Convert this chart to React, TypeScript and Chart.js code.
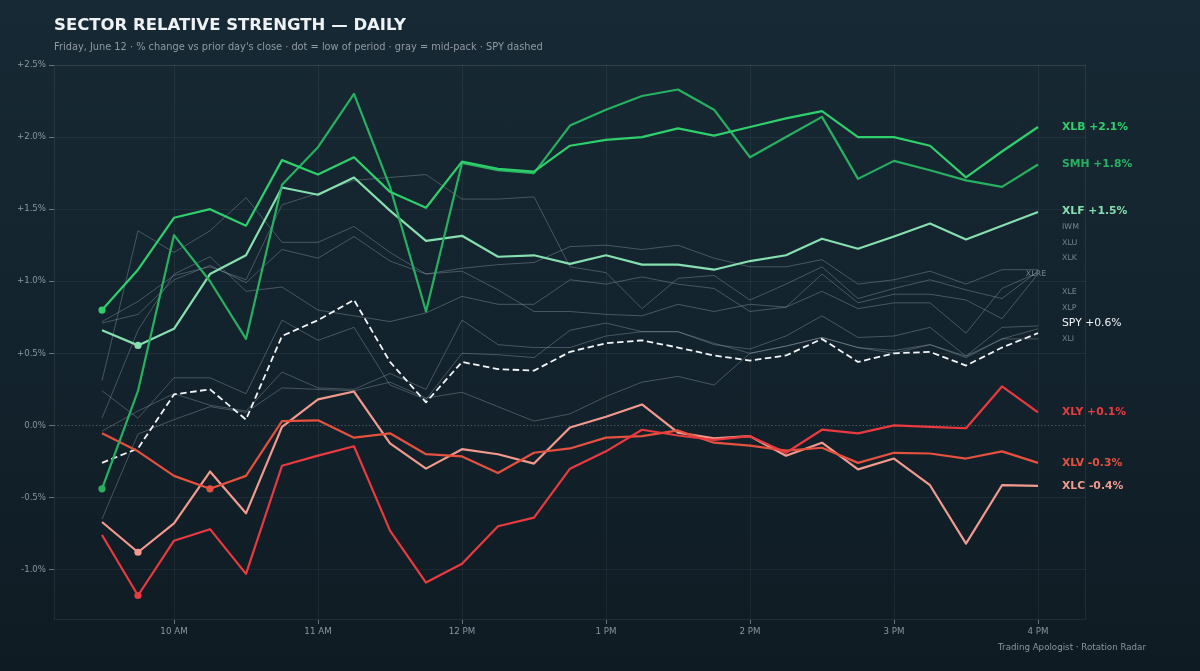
import React, { useEffect, useRef } from "react";
import { Chart, registerables } from "chart.js";

Chart.register(...registerables);

// ---------- data ----------
const TIMES = [
  "9:30", "9:45", "10:00", "10:15", "10:30", "10:45", "11:00", "11:15", "11:30",
  "11:45", "12:00", "12:15", "12:30", "12:45", "13:00", "13:15", "13:30", "13:45",
  "14:00", "14:15", "14:30", "14:45", "15:00", "15:15", "15:30", "15:45", "16:00",
];
const X_RANGE = ["9:10", "16:20"];
const X_TICK_TIMES = ["10:00", "11:00", "12:00", "13:00", "14:00", "15:00", "16:00"];
const X_TICK_LABELS = ["10 AM", "11 AM", "12 PM", "1 PM", "2 PM", "3 PM", "4 PM"];
const Y_TICKS = [-1.0, -0.5, 0.0, 0.5, 1.0, 1.5, 2.0, 2.5];
const Y_RANGE = [-1.35, 2.5];

const XLB = [0.80, 1.08, 1.44, 1.50, 1.385, 1.84, 1.74, 1.86, 1.62, 1.51, 1.83, 1.78, 1.76, 1.94, 1.98, 2.00, 2.06, 2.01, 2.07, 2.13, 2.18, 2.00, 2.00, 1.94, 1.72, 1.90, 2.07];
const SMH = [-0.44, 0.24, 1.32, 1.0, 0.60, 1.67, 1.93, 2.30, 1.655, 0.79, 1.82, 1.77, 1.75, 2.08, 2.19, 2.285, 2.33, 2.19, 1.86, 2.00, 2.14, 1.71, 1.835, 1.77, 1.70, 1.655, 1.81];
const XLF = [0.66, 0.555, 0.67, 1.05, 1.18, 1.65, 1.60, 1.72, 1.49, 1.28, 1.315, 1.17, 1.18, 1.12, 1.18, 1.115, 1.115, 1.08, 1.14, 1.18, 1.295, 1.225, 1.31, 1.40, 1.29, 1.385, 1.48];
const SPY = [-0.26, -0.16, 0.215, 0.25, 0.04, 0.62, 0.73, 0.87, 0.44, 0.16, 0.44, 0.39, 0.38, 0.51, 0.57, 0.59, 0.54, 0.485, 0.45, 0.485, 0.60, 0.44, 0.50, 0.51, 0.415, 0.54, 0.64];
const XLY = [-0.76, -1.18, -0.80, -0.72, -1.03, -0.28, -0.21, -0.145, -0.73, -1.09, -0.96, -0.70, -0.64, -0.30, -0.18, -0.03, -0.07, -0.10, -0.075, -0.19, -0.03, -0.055, 0.0, -0.01, -0.02, 0.27, 0.09];
const XLV = [-0.055, -0.18, -0.35, -0.44, -0.35, 0.03, 0.035, -0.085, -0.055, -0.20, -0.215, -0.33, -0.19, -0.16, -0.085, -0.075, -0.035, -0.12, -0.14, -0.175, -0.155, -0.26, -0.19, -0.195, -0.23, -0.18, -0.26];
const XLC = [-0.67, -0.88, -0.68, -0.32, -0.61, -0.01, 0.18, 0.235, -0.125, -0.30, -0.165, -0.20, -0.265, -0.015, 0.06, 0.145, -0.05, -0.09, -0.075, -0.21, -0.12, -0.305, -0.23, -0.415, -0.82, -0.415, -0.42];

const IWM = [0.31, 1.35, 1.20, 1.35, 1.58, 1.27, 1.27, 1.38, 1.20, 1.05, 1.09, 1.115, 1.13, 1.24, 1.25, 1.22, 1.25, 1.16, 1.10, 1.10, 1.15, 0.98, 1.01, 1.07, 0.98, 1.08, 1.08];
const XLU = [0.72, 0.86, 1.04, 1.10, 1.01, 1.53, 1.61, 1.70, 1.72, 1.74, 1.57, 1.57, 1.585, 1.10, 1.06, 0.81, 1.02, 1.04, 0.87, 0.98, 1.10, 0.88, 0.95, 1.01, 0.94, 0.88, 1.07];
const XLK = [0.71, 0.77, 1.01, 1.11, 0.99, 1.22, 1.16, 1.31, 1.14, 1.05, 1.07, 0.94, 0.79, 0.79, 0.77, 0.76, 0.84, 0.79, 0.84, 0.82, 0.93, 0.81, 0.85, 0.85, 0.64, 0.95, 1.06];
const XLRE = [0.05, 0.66, 1.05, 1.17, 0.93, 0.96, 0.80, 0.76, 0.72, 0.78, 0.895, 0.84, 0.84, 1.01, 0.98, 1.03, 0.98, 0.95, 0.79, 0.82, 1.05, 0.85, 0.91, 0.91, 0.87, 0.74, 1.05];
const XLE = [0.24, 0.05, 0.33, 0.33, 0.22, 0.73, 0.59, 0.68, 0.28, 0.18, 0.50, 0.49, 0.47, 0.66, 0.71, 0.65, 0.65, 0.56, 0.53, 0.62, 0.76, 0.61, 0.62, 0.68, 0.48, 0.68, 0.69];
const XLP = [-0.04, 0.10, 0.22, 0.14, 0.10, 0.37, 0.26, 0.25, 0.36, 0.25, 0.73, 0.56, 0.54, 0.54, 0.62, 0.65, 0.65, 0.57, 0.50, 0.55, 0.61, 0.54, 0.50, 0.56, 0.48, 0.60, 0.67];
const XLI = [-0.65, -0.06, 0.04, 0.13, 0.09, 0.26, 0.25, 0.24, 0.30, 0.19, 0.23, 0.13, 0.03, 0.08, 0.20, 0.30, 0.34, 0.28, 0.50, 0.55, 0.61, 0.54, 0.52, 0.56, 0.47, 0.60, 0.60];

const INLINE_LABEL = "XLRE";

// ---------- styles ----------
type Kind = "hi" | "spy" | "gray";
interface Series { name: string; values: number[]; kind: Kind; color: string }

const SERIES: Series[] = [
  { name: "XLB", values: XLB, kind: "hi", color: "#2fcf6c" },
  { name: "SMH", values: SMH, kind: "hi", color: "#27b060" },
  { name: "XLF", values: XLF, kind: "hi", color: "#86dfae" },
  { name: "XLY", values: XLY, kind: "hi", color: "#ea3a40" },
  { name: "XLV", values: XLV, kind: "hi", color: "#e5513f" },
  { name: "XLC", values: XLC, kind: "hi", color: "#f29a8e" },
  { name: "SPY", values: SPY, kind: "spy", color: "#f2f5f7" },
  { name: "IWM", values: IWM, kind: "gray", color: "rgba(150,164,175,0.40)" },
  { name: "XLU", values: XLU, kind: "gray", color: "rgba(150,164,175,0.40)" },
  { name: "XLK", values: XLK, kind: "gray", color: "rgba(150,164,175,0.40)" },
  { name: "XLRE", values: XLRE, kind: "gray", color: "rgba(150,164,175,0.40)" },
  { name: "XLE", values: XLE, kind: "gray", color: "rgba(150,164,175,0.40)" },
  { name: "XLP", values: XLP, kind: "gray", color: "rgba(150,164,175,0.40)" },
  { name: "XLI", values: XLI, kind: "gray", color: "rgba(150,164,175,0.40)" },
];

const FONT = "'DejaVu Sans', 'Noto Sans', sans-serif";
const TICK_COLOR = "#8a96a0";

const toMin = (t: string) => {
  const [h, m] = t.split(":").map(Number);
  return h * 60 + m;
};

const fmt = (v: number) => (v >= 0 ? "+" : "") + v.toFixed(1) + "%";

const framePlugin = {
  id: "frame",
  beforeDatasetsDraw(chart: any) {
    const { ctx, chartArea: a, scales } = chart;
    ctx.save();
    ctx.strokeStyle = "rgba(255,255,255,0.075)";
    ctx.lineWidth = 1;
    ctx.strokeRect(a.left + 0.5, a.top + 0.5, a.right - a.left - 1, a.bottom - a.top - 1);
    const y0 = Math.round(scales.y.getPixelForValue(0)) + 0.5;
    ctx.strokeStyle = "rgba(190,205,215,0.38)";
    ctx.lineWidth = 0.8;
    ctx.setLineDash([1.5, 2]);
    ctx.beginPath();
    ctx.moveTo(a.left, y0);
    ctx.lineTo(a.right, y0);
    ctx.stroke();
    ctx.restore();
  },
};

const labelPlugin = {
  id: "endLabels",
  afterDatasetsDraw(chart: any) {
    const { ctx, scales } = chart;
    const ys = scales.y;
    const xs = scales.x;
    const lastX = xs.getPixelForValue(toMin(TIMES[TIMES.length - 1]));
    const items = SERIES.map((s) => ({ s, end: s.values[s.values.length - 1] }));
    items.sort((a, b) => a.end - b.end);
    const GAP = 15.7;
    let prev = Infinity;
    ctx.save();
    ctx.textBaseline = "middle";
    for (const it of items) {
      const py = ys.getPixelForValue(it.end);
      const y = Math.min(py, prev - GAP);
      prev = y;
      const s = it.s;
      if (s.kind === "hi") {
        ctx.font = `bold 10.8px ${FONT}`;
        ctx.fillStyle = s.color;
        ctx.textAlign = "left";
        ctx.fillText(`${s.name} ${fmt(it.end)}`, lastX + 24, y);
      } else if (s.kind === "spy") {
        ctx.font = `10.8px ${FONT}`;
        ctx.fillStyle = "#eef2f5";
        ctx.textAlign = "left";
        ctx.fillText(`${s.name} ${fmt(it.end)}`, lastX + 24, y);
      } else {
        ctx.font = `7.9px ${FONT}`;
        ctx.fillStyle = "#76838d";
        if (s.name === INLINE_LABEL) {
          ctx.textAlign = "center";
          ctx.fillText(s.name, lastX - 2, y);
        } else {
          ctx.textAlign = "left";
          ctx.fillText(s.name, lastX + 24, y);
        }
      }
    }
    ctx.restore();
  },
};

function lowIndex(v: number[]) {
  let k = 0;
  for (let i = 1; i < v.length; i++) if (v[i] < v[k]) k = i;
  return k;
}

export default function App() {
  const ref = useRef<HTMLCanvasElement | null>(null);

  useEffect(() => {
    document.body.style.margin = "0";
    const xs = TIMES.map(toMin);
    const datasets = SERIES.map((s) => {
      const low = s.kind === "hi" ? lowIndex(s.values) : -1;
      return {
        label: s.name,
        data: s.values.map((v, i) => ({ x: xs[i], y: v })),
        borderColor: s.color,
        backgroundColor: s.color,
        borderWidth: s.kind === "gray" ? 1 : s.kind === "spy" ? 1.8 : 2.2,
        borderDash: s.kind === "spy" ? [6.5, 3.5] : [],
        borderJoinStyle: "round" as const,
        pointRadius: (c: any) => (c.dataIndex === low ? 3.6 : 0),
        pointHoverRadius: 0,
        pointBorderWidth: 0,
        pointBackgroundColor: s.color,
        tension: 0,
        fill: false,
      };
    });

    const chart = new Chart(ref.current as HTMLCanvasElement, {
      type: "line",
      data: { datasets },
      options: {
        animation: false,
        responsive: false,
        devicePixelRatio: 1,
        events: [],
        layout: { padding: { top: 65, right: 114, left: 0, bottom: 0 } },
        plugins: { legend: { display: false }, tooltip: { enabled: false }, title: { display: false } },
        scales: {
          x: {
            type: "linear",
            min: toMin(X_RANGE[0]),
            max: toMin(X_RANGE[1]),
            afterFit: (s: any) => { s.height = 51; },
            afterBuildTicks: (s: any) => { s.ticks = X_TICK_TIMES.map((t) => ({ value: toMin(t) })); },
            ticks: {
              color: TICK_COLOR,
              font: { family: FONT, size: 8.7 },
              padding: 3,
              maxRotation: 0,
              autoSkip: false,
              callback: (v: any) => {
                const i = X_TICK_TIMES.map(toMin).indexOf(Number(v));
                return i >= 0 ? X_TICK_LABELS[i] : "";
              },
            },
            grid: { color: "rgba(255,255,255,0.055)", tickColor: "rgba(160,172,182,0.6)", tickLength: 4, lineWidth: 1 },
            border: { display: false },
          },
          y: {
            type: "linear",
            min: Y_RANGE[0],
            max: Y_RANGE[1],
            afterFit: (s: any) => { s.width = 54; },
            afterBuildTicks: (s: any) => { s.ticks = Y_TICKS.map((v) => ({ value: v })); },
            ticks: {
              color: TICK_COLOR,
              font: { family: FONT, size: 8.6 },
              padding: 3,
              callback: (v: any) => {
                const n = Number(v);
                return (n > 0 ? "+" : "") + n.toFixed(1) + "%";
              },
            },
            grid: {
              color: (c: any) => (c.tick && Math.abs(c.tick.value) < 1e-9 ? "rgba(0,0,0,0)" : "rgba(255,255,255,0.055)"),
              tickColor: "rgba(160,172,182,0.6)",
              tickLength: 5,
              lineWidth: 1,
            },
            border: { display: false },
          },
        },
      },
      plugins: [framePlugin, labelPlugin],
    } as any);
    return () => chart.destroy();
  }, []);

  return (
    <div
      style={{
        position: "fixed",
        left: 0,
        top: 0,
        width: 1200,
        height: 671,
        overflow: "hidden",
        background: "linear-gradient(180deg, #172934 0%, #13232d 50%, #0f1b23 100%)",
        fontFamily: FONT,
      }}
    >
      <canvas ref={ref} width={1200} height={671} style={{ position: "absolute", left: 0, top: 0 }} />
      <div
        style={{
          position: "absolute", left: 54, top: 14, lineHeight: "22px",
          fontSize: 16.5, fontWeight: 700, color: "#eef2f5", whiteSpace: "nowrap",
        }}
      >
        SECTOR RELATIVE STRENGTH — DAILY
      </div>
      <div
        style={{
          position: "absolute", left: 54, top: 40, lineHeight: "14px",
          fontSize: 9.8, color: "#8f9ba5", whiteSpace: "nowrap",
        }}
      >
        Friday, June 12 · % change vs prior day's close · dot = low of period · gray = mid-pack · SPY dashed
      </div>
      <div
        style={{
          position: "absolute", right: 54, top: 640, lineHeight: "14px",
          fontSize: 8.7, color: "#8a96a0", whiteSpace: "nowrap",
        }}
      >
        Trading Apologist · Rotation Radar
      </div>
    </div>
  );
}
